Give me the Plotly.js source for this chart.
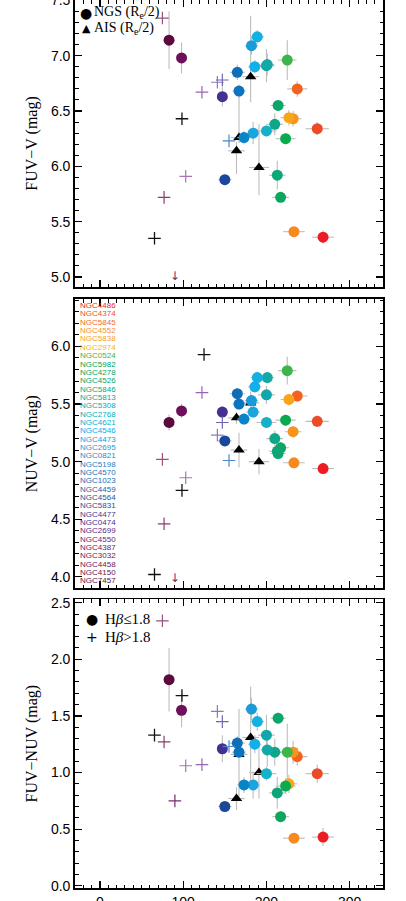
<!DOCTYPE html>
<html>
<head>
<meta charset="utf-8">
<script src="https://cdn.plot.ly/plotly-3.0.1.min.js"></script>
<style>
  html, body { margin: 0; padding: 0; background: #fff; }
  #chart { width: 406px; height: 901px; }
</style>
</head>
<body>
<div id="chart"></div>
<script>
// ---- circles: NGS galaxies (Hbeta <= 1.8) ----
const ngsSigma = [268, 261, 237, 233, 232, 227, 225, 223, 217, 214, 213, 210, 200, 201, 200,
                  189, 186, 184, 182, 173, 167, 165, 150, 147, 98, 83];
const ngsFuvV  = [5.36, 6.34, 6.70, 5.41, 6.43, 6.44, 6.96, 6.25, 5.72, 6.55, 5.92, 6.38, 6.91, 6.92, 6.32,
                  7.17, 6.90, 6.30, 7.09, 6.26, 6.68, 6.85, 5.88, 6.63, 6.98, 7.14];
const ngsNuvV  = [4.94, 5.35, 5.57, 4.99, 5.26, 5.54, 5.79, 5.36, 5.12, 5.07, 5.09, 5.20, 5.58, 5.73, 5.34,
                  5.73, 5.65, 5.43, 5.53, 5.37, 5.50, 5.59, 5.18, 5.43, 5.44, 5.34];
const ngsFuvNuv = [0.43, 0.99, 1.14, 0.42, 1.18, 0.90, 1.18, 0.88, 0.61, 1.48, 0.82, 1.18, 1.33, 1.20, 0.99,
                   1.45, 1.25, 0.89, 1.56, 0.89, 1.18, 1.26, 0.70, 1.21, 1.55, 1.82];
const ngsSigmaErr = [13, 14, 12, 13, 10, 10, 11, 12, 10, 9, 10, 10, 10, 8, 12,
                     8, 8, 8, 8, 8, 8, 9, 8, 6, 4, 3];
const ngsFuvVErr  = [0.06, 0.06, 0.07, 0.03, 0.07, 0.07, 0.18, 0.05, 0.03, 0.05, 0.13, 0.10, 0.15, 0.10, 0.05,
                     0.06, 0.06, 0.10, 0.08, 0.06, 0.06, 0.07, 0.03, 0.09, 0.14, 0.26];
const ngsNuvVErr  = [0.05, 0.05, 0.05, 0.03, 0.05, 0.05, 0.12, 0.05, 0.05, 0.05, 0.05, 0.07, 0.08, 0.05, 0.05,
                     0.05, 0.05, 0.05, 0.05, 0.05, 0.05, 0.05, 0.03, 0.05, 0.06, 0.07];
const ngsFuvNuvErr = [0.08, 0.08, 0.08, 0.03, 0.10, 0.08, 0.25, 0.07, 0.05, 0.05, 0.14, 0.12, 0.18, 0.15, 0.06,
                      0.08, 0.08, 0.12, 0.10, 0.07, 0.05, 0.06, 0.04, 0.12, 0.15, 0.28];
const ngsColors = ['#ED1C24', '#EF4A27', '#F26322', '#F7891F', '#F7941D', '#F9A51A', '#3DB54A', '#0BAA4E',
                   '#0DA65E', '#0DA66A', '#0BA678', '#0FA78A', '#12A6A8', '#14A9A6', '#15B1C8',
                   '#15B0E2', '#12B0EA', '#1BA5DF', '#1A9BD7', '#0984C8', '#0A74BE', '#0F6EB6', '#1A479B',
                   '#45308F', '#6D0F5A', '#5C0A3E'];

// ---- coloured crosses (Hbeta > 1.8) ----
const youngSigma  = [75, 77, 90, 103, 122.5, 141, 147, 155];
const youngFuvV   = [7.34, 5.72, null, 5.91, 6.67, 6.76, 6.78, 6.23];
const youngNuvV   = [5.02, 4.46, null, 4.86, 5.60, 5.23, 5.34, 5.01];
const youngFuvNuv = [2.34, 1.27, 0.75, 1.06, 1.07, 1.54, 1.45, 1.23];
const youngColors = ['#9A5078', '#8E3C6C', '#7A2B6B', '#A874B4', '#9A64B2', '#8E78BC', '#6E66B0', '#4F86C6'];

// upper limits drawn as arrows (FUV-V, NUV-V)
const limSigma = [90];
const limFuvV  = [5.0];
const limNuvV  = [3.98];
const limColor = '#7A2B6B';

// ---- black crosses ----
const blackSigma  = [65.5, 98.5, 125];
const blackFuvV   = [5.35, 6.43, null];
const blackNuvV   = [4.02, 4.75, 5.93];
const blackFuvNuv = [1.33, 1.68, null];

// ---- black triangles: AIS ----
const aisSigma  = [164, 167, 181, 191];
const aisFuvV   = [6.14, 6.26, 6.81, 5.99];
const aisFuvVUp = [0.08, 0.42, 0.55, 0.39];
const aisFuvVDn = [0.21, 0.05, 0.23, 0.25];
const aisNuvV   = [5.38, 5.10, 5.51, 5.00];
const aisNuvVErr = [0.05, 0.15, 0.10, 0.11];
const aisFuvNuv = [0.77, 1.16, 1.31, 1.00];
const aisFuvNuvErr = [0.10, 0.40, 0.45, 0.23];
const aisSigmaErr = [10, 10, 10, 12];

// ---- galaxy name list (panel 2) ----
const galNames = ['NGC4486', 'NGC4374', 'NGC5845', 'NGC4552', 'NGC5838', 'NGC2974', 'NGC0524', 'NGC5982',
  'NGC4278', 'NGC4526', 'NGC5846', 'NGC5813', 'NGC5308', 'NGC2768', 'NGC4621', 'NGC4546', 'NGC4473',
  'NGC2695', 'NGC0821', 'NGC5198', 'NGC4570', 'NGC1023', 'NGC4459', 'NGC4564', 'NGC5831', 'NGC4477',
  'NGC0474', 'NGC2699', 'NGC4550', 'NGC4387', 'NGC3032', 'NGC4458', 'NGC4150', 'NGC7457'];
const galColors = ['#ED1C24', '#F04E28', '#F26B22', '#F7901E', '#F9A11B', '#FBB216', '#3AB54A', '#00A651',
  '#00A65D', '#00A66E', '#00A884', '#00A99D', '#00ACAE', '#00B0C0', '#00B2D2', '#00AEEF', '#00A6E6',
  '#1B9AD6', '#1A8CCB', '#1D7FC0', '#1C75BC', '#1F6AB3', '#1F5FA9', '#2255A3', '#2E4A9B', '#3C3C94',
  '#4B2F8E', '#5A2A86', '#69257F', '#702070', '#6D1B60', '#6A1A55', '#67194E', '#5E1045'];

const titles = ['FUV\u2212V (mag)', 'NUV\u2212V (mag)', 'FUV\u2212NUV (mag)'];
const yRanges = [[4.91, 7.503], [3.9, 6.41], [-0.02, 2.53]];
const yDomains = [[0.6768, 1.0], [0.3375, 0.663], [0.0, 0.3251]];

const errStyle = { color: '#bdbdbd', thickness: 1.1, width: 0 };
const sans = 'Liberation Sans, Arial, sans-serif';
const serif = 'Liberation Serif, Times New Roman, serif';

function panelTraces(ax, ngsY, ngsErr, youngY, blackY, aisY, aisUp, aisDn) {
  const xa = ax === 1 ? 'x' : 'x' + ax;
  const ya = ax === 1 ? 'y' : 'y' + ax;
  return [
    {
      x: aisSigma, y: aisY, xaxis: xa, yaxis: ya, type: 'scatter', mode: 'markers',
      marker: { symbol: 'triangle-up', size: 10, color: 'black' },
      error_x: Object.assign({ type: 'data', array: aisSigmaErr }, errStyle),
      error_y: Object.assign({ type: 'data', symmetric: false, array: aisUp, arrayminus: aisDn }, errStyle),
      showlegend: false, hoverinfo: 'skip'
    },
    {
      x: ngsSigma, y: ngsY, xaxis: xa, yaxis: ya, type: 'scatter', mode: 'markers',
      marker: { symbol: 'circle', size: 11, color: ngsColors },
      error_x: Object.assign({ type: 'data', array: ngsSigmaErr }, errStyle),
      error_y: Object.assign({ type: 'data', array: ngsErr }, errStyle),
      showlegend: false, hoverinfo: 'skip'
    },
    {
      x: youngSigma, y: youngY, xaxis: xa, yaxis: ya, type: 'scatter', mode: 'markers',
      marker: { symbol: 'cross-thin', size: 9, line: { width: 1.2, color: youngColors } },
      showlegend: false, hoverinfo: 'skip'
    },
    {
      x: blackSigma, y: blackY, xaxis: xa, yaxis: ya, type: 'scatter', mode: 'markers',
      marker: { symbol: 'cross-thin', size: 9, line: { width: 1.3, color: '#111' } },
      showlegend: false, hoverinfo: 'skip'
    }
  ];
}

let data = [];
data = data.concat(panelTraces(1, ngsFuvV, ngsFuvVErr, youngFuvV, blackFuvV, aisFuvV, aisFuvVUp, aisFuvVDn));
data = data.concat(panelTraces(2, ngsNuvV, ngsNuvVErr, youngNuvV, blackNuvV, aisNuvV, aisNuvVErr, aisNuvVErr));
data = data.concat(panelTraces(3, ngsFuvNuv, ngsFuvNuvErr, youngFuvNuv, blackFuvNuv, aisFuvNuv, aisFuvNuvErr, aisFuvNuvErr));

// upper-limit arrows
data.push({ x: limSigma, y: limFuvV, xaxis: 'x', yaxis: 'y', type: 'scatter', mode: 'text',
  text: ['\u2193'], textfont: { family: 'DejaVu Sans', size: 12, color: limColor },
  showlegend: false, hoverinfo: 'skip' });
data.push({ x: limSigma, y: limNuvV, xaxis: 'x2', yaxis: 'y2', type: 'scatter', mode: 'text',
  text: ['\u2193'], textfont: { family: 'DejaVu Sans', size: 12, color: limColor },
  showlegend: false, hoverinfo: 'skip' });

const layout = {
  width: 406, height: 901,
  margin: { l: 75, r: 23, t: 0, b: 13 },
  paper_bgcolor: 'white', plot_bgcolor: 'white',
  showlegend: false,
  font: { family: sans, size: 14, color: 'black' },
  annotations: []
};

for (let i = 0; i < 3; i++) {
  const n = i === 0 ? '' : String(i + 1);
  const yref = i === 0 ? 'y' : 'y' + (i + 1);
  const xref = i === 0 ? 'x' : 'x' + (i + 1);
  layout['xaxis' + n] = {
    domain: [0, 1], anchor: yref, range: [-30, 340],
    dtick: 100, tick0: 0, ticks: 'inside', ticklen: 7, tickwidth: 1.2, tickcolor: 'black',
    minor: { dtick: 10, ticks: 'inside', ticklen: 3.5, tickwidth: 1, tickcolor: 'black' },
    showline: true, linecolor: 'black', linewidth: 1.8, mirror: 'allticks',
    showgrid: false, zeroline: false, showticklabels: i === 2,
    ticklabeloverflow: 'allow',
    tickfont: { family: sans, size: 14, color: 'black' }
  };
  layout['yaxis' + n] = {
    domain: yDomains[i], anchor: xref, range: yRanges[i],
    dtick: 0.5, tick0: 0, ticks: 'inside', ticklen: 7, tickwidth: 1.2, tickcolor: 'black',
    minor: { dtick: 0.1, ticks: 'inside', ticklen: 3.5, tickwidth: 1, tickcolor: 'black' },
    showline: true, linecolor: 'black', linewidth: 1.8, mirror: 'allticks',
    showgrid: false, zeroline: false, tickformat: '.1f',
    ticklabeloverflow: 'allow',
    tickfont: { family: sans, size: 14, color: 'black' },
    title: { text: titles[i], font: { family: serif, size: 16, color: 'black' }, standoff: 9 }
  };
}

// panel 1 legend
layout.annotations.push(
  { xref: 'x domain', yref: 'y domain', x: 0.036, y: 0.955, text: '\u25CF', showarrow: false,
    font: { family: 'DejaVu Sans', size: 14, color: 'black' }, xanchor: 'center', yanchor: 'middle' },
  { xref: 'x domain', yref: 'y domain', x: 0.056, y: 0.957, text: 'NGS (R<sub>e</sub>/2)', showarrow: false,
    font: { family: serif, size: 14, color: 'black' }, xanchor: 'left', yanchor: 'middle' },
  { xref: 'x domain', yref: 'y domain', x: 0.036, y: 0.902, text: '\u25B2', showarrow: false,
    font: { family: 'DejaVu Sans', size: 11, color: 'black' }, xanchor: 'center', yanchor: 'middle' },
  { xref: 'x domain', yref: 'y domain', x: 0.056, y: 0.900, text: 'AIS (R<sub>e</sub>/2)', showarrow: false,
    font: { family: serif, size: 14, color: 'black' }, xanchor: 'left', yanchor: 'middle' }
);

// panel 3 legend
layout.annotations.push(
  { xref: 'x3 domain', yref: 'y3 domain', x: 0.055, y: 0.932, text: '\u25CF', showarrow: false,
    font: { family: 'DejaVu Sans', size: 14, color: 'black' }, xanchor: 'center', yanchor: 'middle' },
  { xref: 'x3 domain', yref: 'y3 domain', x: 0.09, y: 0.932, text: 'H<i>\u03B2</i>\u22641.8', showarrow: false,
    font: { family: serif, size: 15, color: 'black' }, xanchor: 'left', yanchor: 'middle' },
  { xref: 'x3 domain', yref: 'y3 domain', x: 0.055, y: 0.868, text: '+', showarrow: false,
    font: { family: 'DejaVu Sans', size: 14, color: 'black' }, xanchor: 'center', yanchor: 'middle' },
  { xref: 'x3 domain', yref: 'y3 domain', x: 0.09, y: 0.868, text: 'H<i>\u03B2</i>&gt;1.8', showarrow: false,
    font: { family: serif, size: 15, color: 'black' }, xanchor: 'left', yanchor: 'middle' }
);

// galaxy name column in panel 2
galNames.forEach((name, k) => {
  layout.annotations.push({
    xref: 'x2 domain', yref: 'y2 domain', x: 0.011, y: 0.978 - k * 0.02886,
    text: name, showarrow: false, xanchor: 'left', yanchor: 'middle',
    font: { family: sans, size: 8, color: galColors[k] }
  });
});

Plotly.newPlot('chart', data, layout, { staticPlot: true, displayModeBar: false });
</script>
</body>
</html>
